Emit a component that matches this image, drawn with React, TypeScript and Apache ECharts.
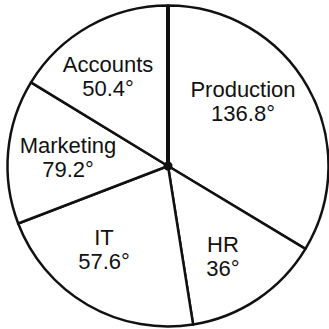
import React, { useEffect, useRef } from "react";
import * as echarts from "echarts";

const departments = ["Production", "HR", "IT", "Marketing", "Accounts"];
// degree values printed on the chart
const degreeLabels = [136.8, 36, 57.6, 79.2, 50.4];
// slice sizes as actually drawn in the picture (degrees)
const drawnAngles = [121.1, 49.9, 78.0, 52.4, 58.6];

// label block centres relative to pie centre (layout only)
const labelOffsets: [number, number][] = [
  [75, -65],
  [55, 90],
  [-64, 83.5],
  [-100, -8.5],
  [-60, -90],
];

const CX = 168;
const CY = 166;
const R = 160.5;

export default function App() {
  const ref = useRef<HTMLDivElement>(null);
  useEffect(() => {
    if (!ref.current) return;
    const chart = echarts.init(ref.current, null, { renderer: "svg" });
    chart.setOption({
      animation: false,
      backgroundColor: "#fff",
      series: [
        {
          type: "pie",
          center: [CX, CY],
          radius: [0, R],
          startAngle: 90,
          clockwise: true,
          silent: true,
          z: 1,
          itemStyle: { color: "#fff", borderColor: "#111", borderWidth: 2.5 },
          label: { show: false },
          labelLine: { show: false },
          data: departments.map((name, i) => ({ name, value: drawnAngles[i] })),
        },
      ],
      graphic: [
        {
          type: "line",
          z: 100,
          shape: { x1: CX, y1: CY, x2: CX, y2: CY - R },
          style: { stroke: "#111", lineWidth: 4 },
          silent: true,
        },
        {
          type: "circle",
          z: 101,
          shape: { cx: CX, cy: CY, r: 4.5 },
          style: { fill: "#111" },
          silent: true,
        },
        ...departments.map((name, i) => ({
          type: "text",
          z: 100,
          x: CX + labelOffsets[i][0],
          y: CY + labelOffsets[i][1],
          silent: true,
          style: {
            text: `${name}\n${degreeLabels[i]}°`,
            font: "22px 'Liberation Sans', Arial, sans-serif",
            lineHeight: 24,
            fill: "#111",
            align: "center",
            verticalAlign: "middle",
          },
        })),
      ],
    });
    return () => chart.dispose();
  }, []);
  return (
    <div
      ref={ref}
      style={{ position: "fixed", left: 0, top: 0, width: 329, height: 329 }}
    />
  );
}
